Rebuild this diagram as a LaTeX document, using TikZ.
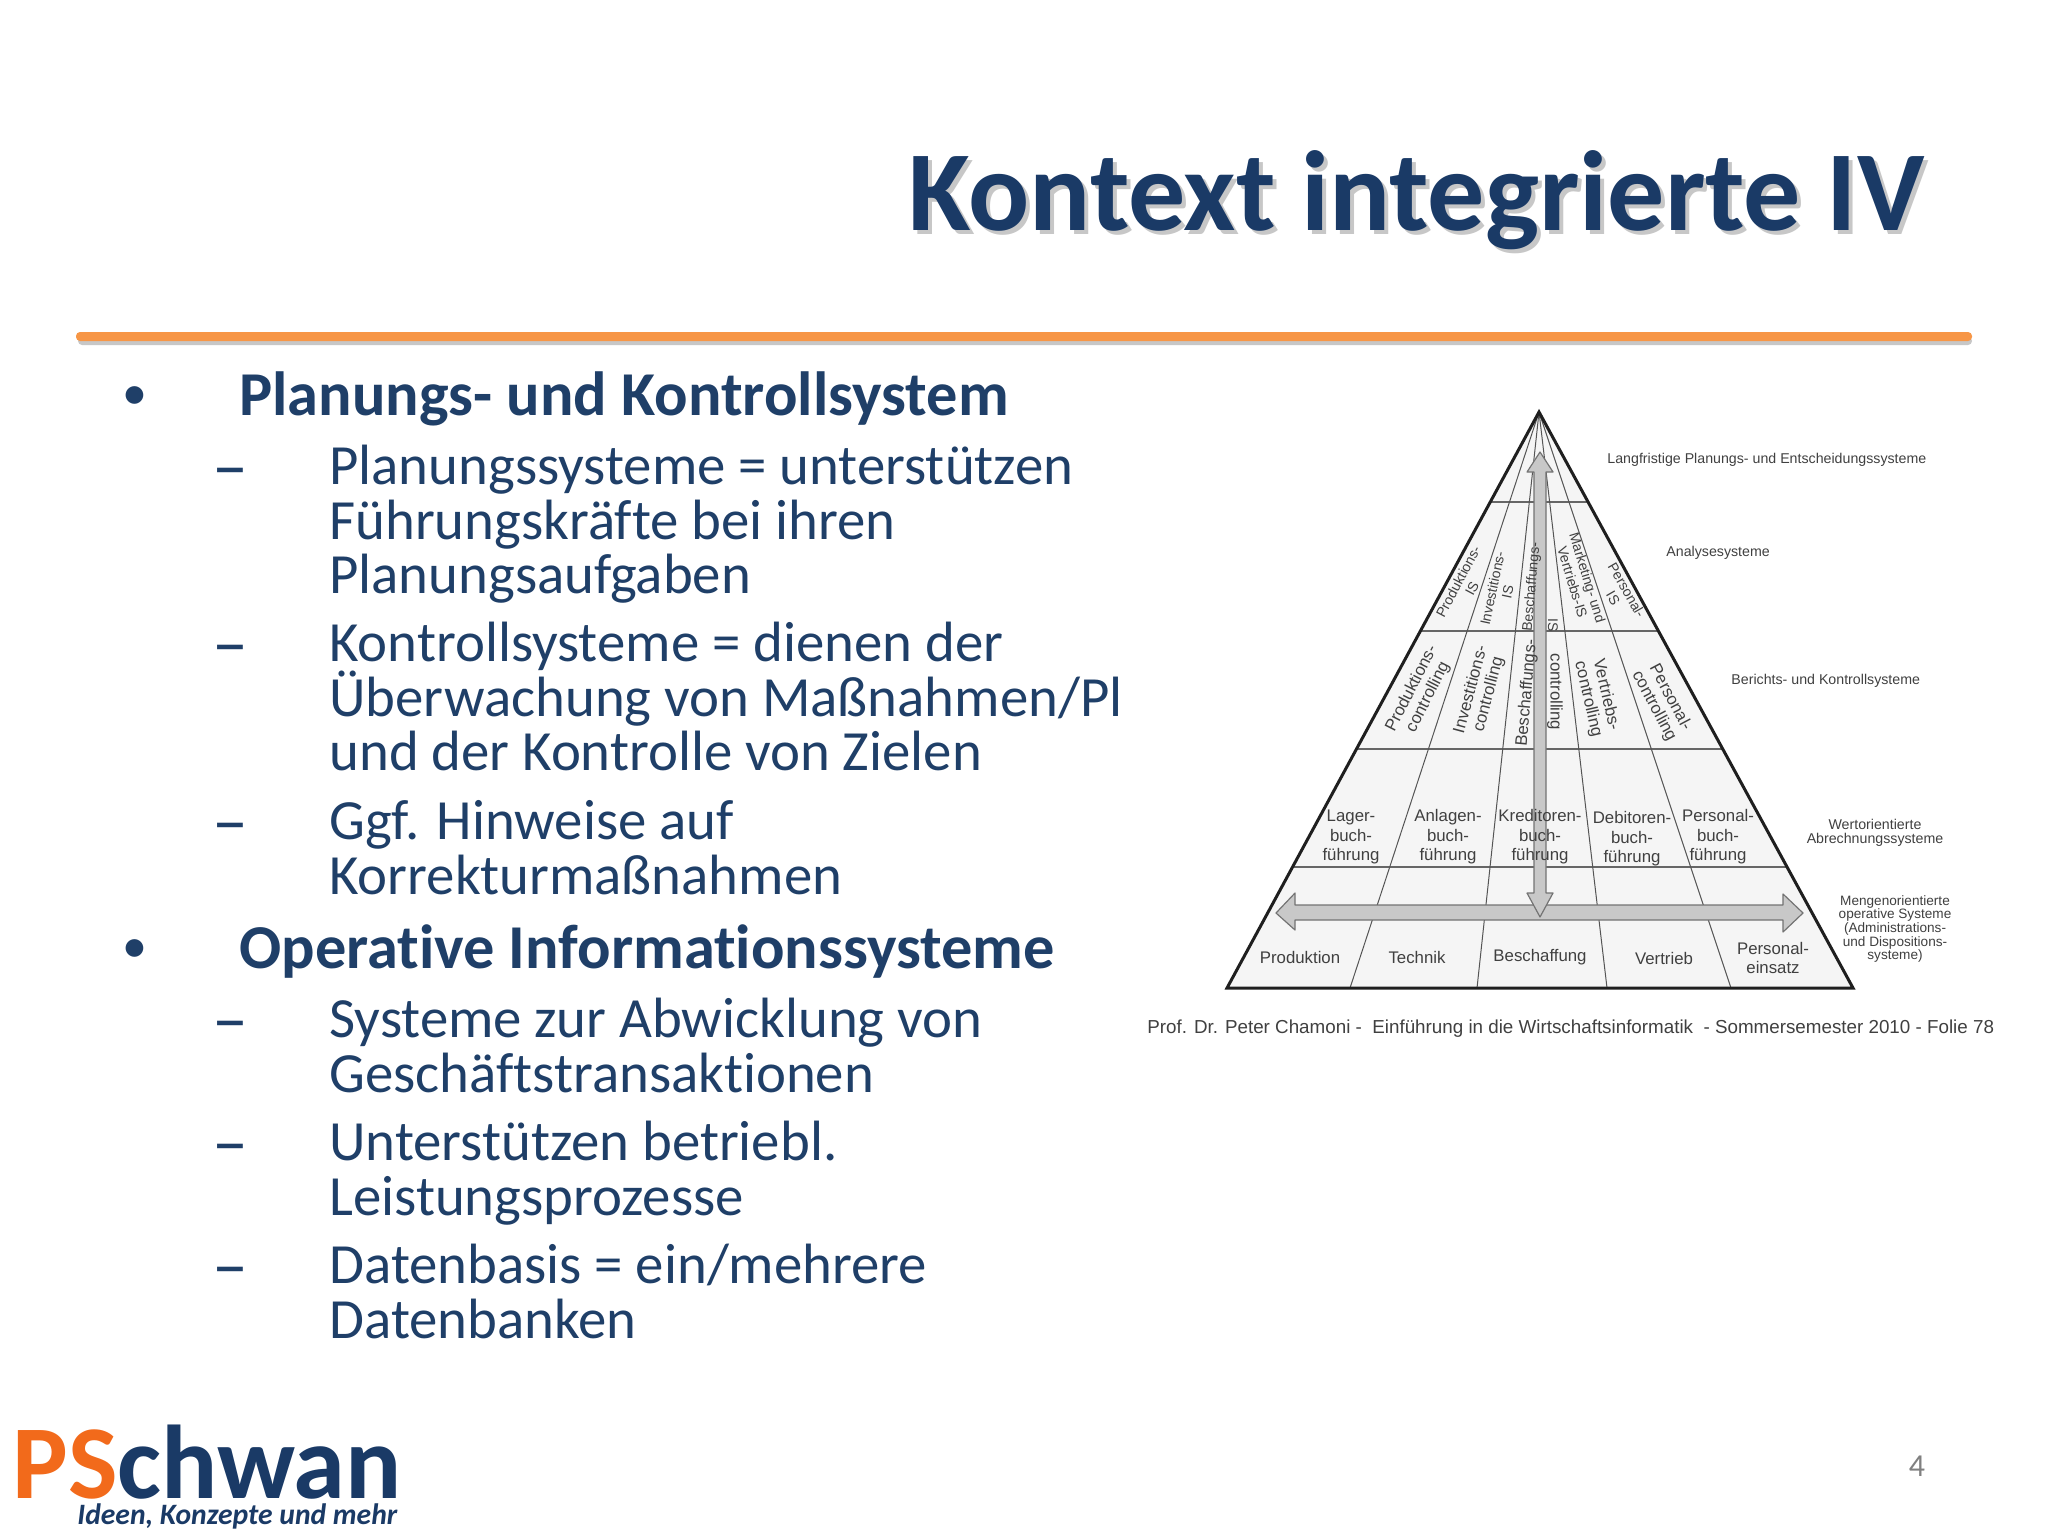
\documentclass[tikz,border=0pt]{standalone}
\usepackage{fontspec}
\setmainfont{Carlito}[Ligatures=NoCommon]
\newfontfamily\arialf{Liberation Sans}
\usetikzlibrary{calc}
\definecolor{navy}{HTML}{1A3A66}
\definecolor{txt}{HTML}{1F3F68}
\definecolor{rulecol}{HTML}{F79646}
\definecolor{logoor}{HTML}{F26A1B}
\definecolor{pyrfill}{HTML}{F5F5F5}
\definecolor{pyrline}{HTML}{555555}
\definecolor{arrfill}{HTML}{C8C8C8}
\tikzset{
  x=0.5pt,y=-0.5pt,
  titletext/.style={anchor=base east,inner sep=0pt,font=\fontsize{57}{57}\selectfont\bfseries,text=navy},
  titleshadow/.style={anchor=base east,inner sep=0pt,font=\fontsize{57}{57}\selectfont\bfseries,text=black!22},
  lvlone/.style={anchor=base west,inner sep=0pt,font=\fontsize{31.2}{31.2}\selectfont\bfseries,text=txt},
  lvltwo/.style={anchor=base west,inner sep=0pt,font=\fontsize{28.4}{28.4}\selectfont,text=txt},
  bull/.style={anchor=base west,inner sep=0pt,font=\fontsize{25}{25}\selectfont,text=txt},
  dashmark/.style={anchor=base west,inner sep=0pt,font=\fontsize{36}{36}\selectfont,text=txt},
  pyrtext/.style={inner sep=0pt,align=center,font=\arialf\fontsize{8.4}{9.8}\selectfont,text=black!75},
  pyrrot/.style={inner sep=0pt,align=center,font=\arialf\fontsize{8.4}{9.2}\selectfont,text=black!75},
  pyrrotsmall/.style={inner sep=0pt,align=center,font=\arialf\fontsize{7.0}{7.8}\selectfont,text=black!75},
  sidetext/.style={inner sep=0pt,align=center,font=\arialf\fontsize{7.1}{7.3}\selectfont,text=black!75},
  sidetiny/.style={inner sep=0pt,align=center,font=\arialf\fontsize{6.8}{6.8}\selectfont,text=black!75},
  pyrdiv/.style={draw=pyrline,line width=0.5pt},
  pyrlvl/.style={draw=black!60,line width=0.85pt},
  pyrbig/.style={fill=arrfill,draw=black!55,line width=0.6pt,line join=round},
}
\begin{document}
\begin{tikzpicture}
\useasboundingbox (0,0) rectangle (2048,1536);
\fill[white] (0,0) rectangle (2048,1536);
% title
\node[titleshadow] (titleS) at (1929,234) {Kontext integrierte IV};
\node[titletext] (title) at (1925,230) {Kontext integrierte IV};
% rule
\fill[black!22,rounded corners=2pt] (78,337) rectangle (1972,345);
\fill[rulecol,rounded corners=2pt] (76,332) rectangle (1972,341);
% text
\node[bull] (b1) at (122,409) {•};
\node[lvlone] (t1) at (239,415) {Planungs- und Kontrollsystem};
\node[dashmark] (d1) at (212,490) {–};
\node[lvltwo] (t2) at (329,484) {Planungssysteme = unterstützen};
\node[lvltwo] (t3) at (329,539) {Führungskräfte bei ihren};
\node[lvltwo] (t4) at (329,593) {Planungsaufgaben};
\node[dashmark] (d2) at (212,667) {–};
\node[lvltwo] (t5) at (329,661) {Kontrollsysteme = dienen der};
\node[lvltwo] (t6) at (329,716) {Überwachung von Maßnahmen/Pl};
\node[lvltwo] (t7) at (329,770) {und der Kontrolle von Zielen};
\node[dashmark] (d3) at (212,845) {–};
\node[lvltwo] (t8) at (329,839) {Ggf. Hinweise auf};
\node[lvltwo] (t9) at (329,894) {Korrekturmaßnahmen};
\node[bull] (b2) at (122,962) {•};
\node[lvlone] (t10) at (239,968) {Operative Informationssysteme};
\node[dashmark] (d4) at (212,1043) {–};
\node[lvltwo] (t11) at (329,1037) {Systeme zur Abwicklung von};
\node[lvltwo] (t12) at (329,1092) {Geschäftstransaktionen};
\node[dashmark] (d5) at (212,1166) {–};
\node[lvltwo] (t13) at (329,1160) {Unterstützen betriebl.};
\node[lvltwo] (t14) at (329,1215) {Leistungsprozesse};
\node[dashmark] (d6) at (212,1289) {–};
\node[lvltwo] (t15) at (329,1283) {Datenbasis = ein/mehrere};
\node[lvltwo] (t16) at (329,1338) {Datenbanken};
% pyramid
\coordinate (apex) at (1539,412);
\coordinate (bl) at (1227,988);
\coordinate (br) at (1853,988);
\fill[pyrfill] (apex) -- (bl) -- (br) -- cycle;
\foreach \yy in {502,631,749,867}{
  \draw[pyrlvl] ($(apex)!{(\yy-412)/576}!(bl)$) -- ($(apex)!{(\yy-412)/576}!(br)$);
}
\foreach \xx in {1350,1477,1607,1731}{
  \draw[pyrdiv] (apex) -- (\xx,988);
}
% arrows
\draw[pyrbig] (1276,913) -- (1295,893) -- (1295,905) -- (1783,905) -- (1783,894) -- (1803,913) -- (1783,932) -- (1783,920) -- (1295,920) -- (1295,930) -- cycle;
\draw[pyrbig] (1540,452) -- (1553,472) -- (1546,472) -- (1546,893) -- (1553,893) -- (1540,917) -- (1527,893) -- (1534,893) -- (1534,472) -- (1527,472) -- cycle;
\draw[line width=1.5pt,black!88,line join=miter] (apex) -- (bl) -- (br) -- cycle;
% labels
\node[pyrtext] (p1) at (1300,957) {Produktion};
\node[pyrtext] (p2) at (1417,957) {Technik};
\node[pyrtext] (p3) at (1540,957) {Beschaffung};
\node[pyrtext] (p4) at (1664,958) {Vertrieb};
\node[pyrtext] (p5) at (1773,958) {Personal-\\einsatz};
\node[pyrtext] (w1) at (1351,837) {Lager-\\buch-\\führung};
\node[pyrtext] (w2) at (1448,837) {Anlagen-\\buch-\\führung};
\node[pyrtext] (w3) at (1540,837) {Kreditoren-\\buch-\\führung};
\node[pyrtext] (w4) at (1632,839) {Debitoren-\\buch-\\führung};
\node[pyrtext] (w5) at (1718,837) {Personal-\\buch-\\führung};
\node[pyrrot,rotate=63] (c1) at (1420,693) {Produktions-\\controlling};
\node[pyrrot,rotate=75] (c2) at (1480,692) {Investitions-\\controlling};
\node[pyrrot,rotate=85] (c3) at (1527,693) {Beschaffungs-};
\node[pyrrot,rotate=-90] (c4) at (1555,692) {controlling};
\node[pyrrot,rotate=-77] (c5) at (1597,697) {Vertriebs-\\controlling};
\node[pyrrot,rotate=-62] (c6) at (1662,702) {Personal-\\controlling};
\node[pyrrotsmall,rotate=62] (a1) at (1465,585) {Produktions-\\IS};
\node[pyrrotsmall,rotate=78] (a2) at (1500,590) {Investitions-\\IS};
\node[pyrrotsmall,rotate=85] (a3) at (1532,587) {Beschaffungs-};
\node[pyrrotsmall,rotate=-90] (a4) at (1553,625) {IS};
\node[pyrrotsmall,rotate=-73] (a5) at (1580,580) {Marketing- und\\Vertriebs-IS};
\node[pyrrotsmall,rotate=-60] (a6) at (1620,594) {Personal-\\IS};
\node[sidetext,anchor=west] (s1) at (1607,460) {Langfristige Planungs- und Entscheidungssysteme};
\node[sidetext,anchor=west] (s2) at (1666,553) {Analysesysteme};
\node[sidetext,anchor=west] (s3) at (1731,681) {Berichts- und Kontrollsysteme};
\node[sidetext] (s4) at (1875,833) {Wertorientierte\\Abrechnungssysteme};
\node[sidetiny] (s5) at (1895,929) {Mengenorientierte\\operative Systeme\\(Administrations-\\und Dispositions-\\systeme)};
\node[inner sep=0pt,anchor=base west,font=\arialf\fontsize{9.4}{10}\selectfont,text=black!75] (cap) at (1147,1033) {Prof. Dr. Peter Chamoni -\ \ Einführung in die Wirtschaftsinformatik\ \ - Sommersemester 2010 - Folie 78};
% page number
\node[inner sep=0pt,font=\fontsize{16}{16}\selectfont,text=black!50] (pg) at (1917,1466) {4};
% logo
\node[inner sep=0pt,anchor=base west,font=\fontsize{52.4}{52.4}\selectfont\bfseries] (logo) at (12,1498) {\textcolor{logoor}{PS}\textcolor{navy}{chwan}};
\node[inner sep=0pt,anchor=base west,font=\fontsize{14.8}{14.8}\selectfont\bfseries\itshape,text=navy] (slog) at (77,1524) {Ideen, Konzepte und mehr};
\end{tikzpicture}
\end{document}
